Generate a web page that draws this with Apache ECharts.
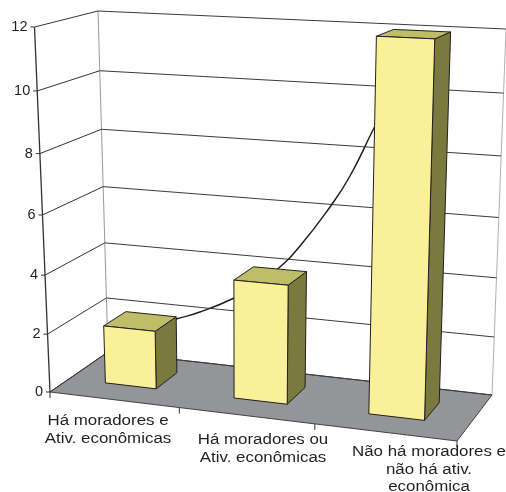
<!DOCTYPE html>
<html><head><meta charset="utf-8">
<style>html,body{margin:0;padding:0;background:#fff}#c{width:506px;height:492px}</style>
<script src="https://cdn.jsdelivr.net/npm/echarts@6/dist/echarts.min.js"></script>
</head><body><div id="c"></div>
<script>
// --- data ---
const categories = ['Há moradores e\nAtiv. econômicas', 'Há moradores ou\nAtiv. econômicas', 'Não há moradores e\nnão há ativ.\neconômica'];
const barValues = [2, 4, 12];
const tickValues = [0, 2, 4, 6, 8, 10, 12];
const curveX = [168, 177, 200, 232, 255, 278, 300, 330, 350, 373, 378];
const curveY = [321, 318.7, 312, 299, 286, 268.7, 246, 207, 176, 130, 121];

// --- layout of the projected box (page pixels) ---
const floorQuad = [[50,392],[457,441],[492,395],[108,352]];
const topQuad = [[34.5,27],[468,47],[506,29],[98,11]];
const perspK = 1.062, barFrac = 0.4, w0 = 0.32, w1 = 0.71, uShift = -0.004;
const labelPos = [[108,412],[263,431],[429,443]];
const FONT = '14.5px "Liberation Sans", Arial, sans-serif';
const LABEL_FONT = '15.5px "Liberation Sans", Arial, sans-serif';
const LABEL_STRETCH = 1.09;
const INK = '#231F20';

function homog(q){
  const [p0,p1,p2,p3]=q;
  const dx1=p1[0]-p2[0],dx2=p3[0]-p2[0],sx=p0[0]-p1[0]+p2[0]-p3[0];
  const dy1=p1[1]-p2[1],dy2=p3[1]-p2[1],sy=p0[1]-p1[1]+p2[1]-p3[1];
  const den=dx1*dy2-dx2*dy1;
  const g=(sx*dy2-dx2*sy)/den,h=(dx1*sy-sx*dy1)/den;
  const a=p1[0]-p0[0]+g*p1[0],b=p3[0]-p0[0]+h*p3[0];
  const d=p1[1]-p0[1]+g*p1[1],e=p3[1]-p0[1]+h*p3[1];
  return (u,w)=>{const t=1+g*u+h*w;return [(p0[0]+a*u+b*w)/t,(p0[1]+d*u+e*w)/t];};
}
const F=homog(floorQuad),T=homog(topQuad);
function P(u,v,w){
  const s=v/(v+perspK*(1-v));
  const a=F(u,w),b=T(u,w);
  return [a[0]+(b[0]-a[0])*s,a[1]+(b[1]-a[1])*s];
}
const line=(a,b,stroke,lw)=>({type:'line',shape:{x1:a[0],y1:a[1],x2:b[0],y2:b[1]},style:{stroke,lineWidth:lw,fill:null}});
const vOf=(api,g,val)=>(g.y+g.height-api.coord([0,val])[1])/g.height;

function renderFloor(p,api){
  return {type:'group',children:[
    {type:'polygon',shape:{points:[P(0,0,0),P(1,0,0),P(1,0,1),P(0,0,1)]},style:{fill:'#939598',stroke:'#333',lineWidth:0.9}},
    line(P(0,0,1),P(0,1,1),'#9a9a9a',1),
    line(P(1,0,1),P(1,1,1),'#b0b0b0',1),
    line(P(0,0,0),P(0,1,0),'#333',1.3),
    line(P(0,0,0),[P(0,0,0)[0],P(0,0,0)[1]+6],'#333',1)
  ]};
}
function renderTick(p,api){
  const g=p.coordSys;
  const val=api.value(1), v=vOf(api,g,val);
  const a=P(0,v,0),b=P(0,v,1),c=P(1,v,1);
  return {type:'group',children:[
    line(a,b,'#333',1),line(b,c,'#3c3c3c',1),
    line([a[0]-4,a[1]],a,'#333',1),
    {type:'text',style:{text:String(val),x:a[0]-7,y:a[1],align:'right',verticalAlign:'middle',font:FONT,fill:INK}}
  ]};
}
function renderBar(p,api){
  const g=p.coordSys;
  const i=api.value(0),val=api.value(1);
  const pt=api.coord([i,val]),band=api.size([1,0])[0];
  const u0=(pt[0]-band*barFrac/2-g.x)/g.width+uShift,u1=(pt[0]+band*barFrac/2-g.x)/g.width+uShift;
  const v=(g.y+g.height-pt[1])/g.height;
  const st=f=>({fill:f,stroke:'#231F20',lineWidth:1,lineJoin:'round'});
  return {type:'group',children:[
    {type:'polygon',shape:{points:[P(u1,0,w0),P(u1,0,w1),P(u1,v,w1),P(u1,v,w0)]},style:st('#7B7A3E')},
    {type:'polygon',shape:{points:[P(u0,v,w0),P(u1,v,w0),P(u1,v,w1),P(u0,v,w1)]},style:st('#BEBD68')},
    {type:'polygon',shape:{points:[P(u0,0,w0),P(u1,0,w0),P(u1,v,w0),P(u0,v,w0)]},style:st('#F9F098')}
  ]};
}
function renderCat(p,api){
  const i=api.value(0);
  const t=P((i+1)/categories.length,0,0);
  return {type:'group',children:[
    line(t,[t[0],t[1]+6],'#333',1),
    {type:'text',x:labelPos[i][0],y:labelPos[i][1],scaleX:LABEL_STRETCH,
      style:{text:categories[i],x:0,y:0,align:'center',verticalAlign:'top',font:LABEL_FONT,lineHeight:17.5,fill:INK}}
  ]};
}
const GRID={left:50,top:27,width:407,height:365};
const chart=echarts.init(document.getElementById('c'),null,{renderer:'canvas'});
chart.setOption({
  animation:false,
  backgroundColor:'#fff',
  grid:[GRID,{left:0,top:0,width:506,height:492}],
  xAxis:[
    {type:'category',data:categories,show:false,gridIndex:0},
    {type:'value',min:0,max:506,show:false,gridIndex:1}
  ],
  yAxis:[
    {type:'value',min:0,max:12,interval:2,show:false,gridIndex:0},
    {type:'value',min:0,max:492,inverse:true,show:false,gridIndex:1}
  ],
  series:[
    {type:'custom',z:1,silent:true,renderItem:renderFloor,data:[[0,0]]},
    {type:'custom',z:2,silent:true,renderItem:renderTick,data:tickValues.map(t=>[0,t])},
    {type:'line',z:3,silent:true,xAxisIndex:1,yAxisIndex:1,smooth:true,symbol:'none',clip:false,
      lineStyle:{color:'#231F20',width:1.5},data:curveX.map((x,i)=>[x,curveY[i]])},
    {type:'custom',z:4,silent:true,renderItem:renderBar,data:barValues.map((b,i)=>[i,b])},
    {type:'custom',z:5,silent:true,renderItem:renderCat,data:categories.map((c,i)=>[i,0])}
  ]
});
</script></body></html>
